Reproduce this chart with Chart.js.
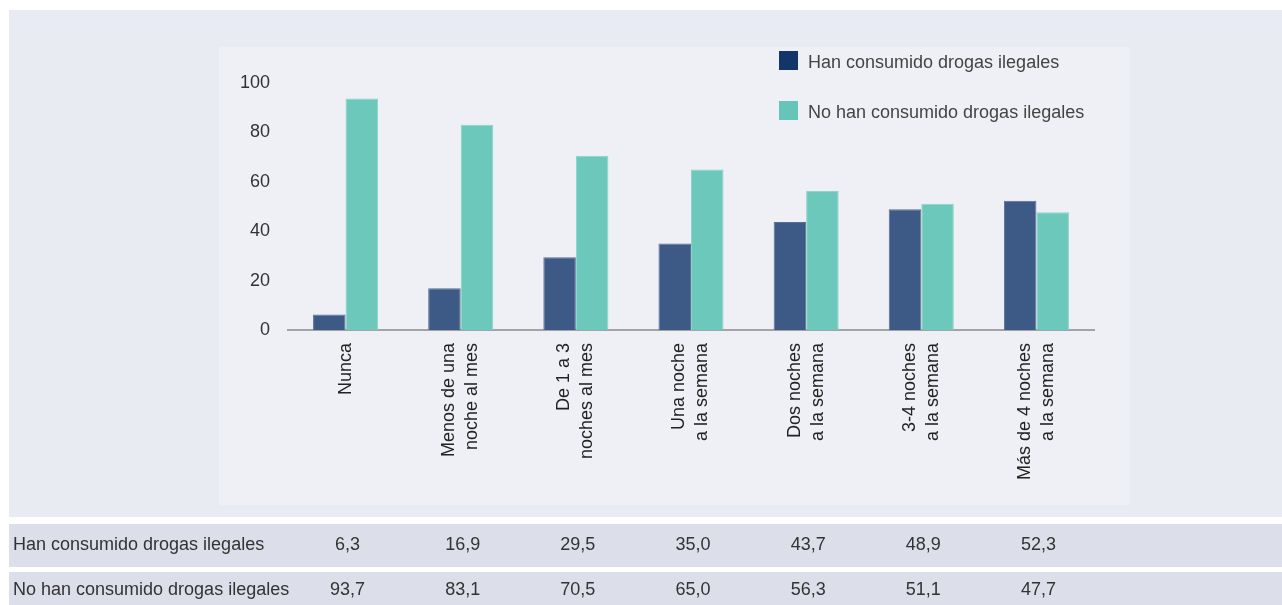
<!DOCTYPE html>
<html>
<head>
<meta charset="utf-8">
<script src="https://cdn.jsdelivr.net/npm/chart.js@4/dist/chart.umd.min.js"></script>
<style>
  html, body { margin: 0; padding: 0; background: #ffffff; }
  #wrap { width: 1282px; height: 605px; position: relative; }
  canvas { display: block; }
</style>
</head>
<body>
<div id="wrap"><canvas id="c" width="1282" height="605"></canvas></div>
<script>
// ---- data ----
const categories = [
  ["Nunca"],
  ["Menos de una", "noche al mes"],
  ["De 1 a 3", "noches al mes"],
  ["Una noche", "a la semana"],
  ["Dos noches", "a la semana"],
  ["3-4 noches", "a la semana"],
  ["Más de 4 noches", "a la semana"]
];
const seriesNames = ["Han consumido drogas ilegales", "No han consumido drogas ilegales"];
const hanConsumido = [6.3, 16.9, 29.5, 35.0, 43.7, 48.9, 52.3];
const noHanConsumido = [93.7, 83.1, 70.5, 65.0, 56.3, 51.1, 47.7];
const yTicks = [0, 20, 40, 60, 80, 100];

// ---- styles ----
const barColors = ["#3c5a85", "#6cc8ba"];
const barBorders = ["#5d6e96", "#8ad3c7"];
const legendColors = ["#13366a", "#66c5b8"];
const FONT = "'Liberation Sans', Arial, Helvetica, sans-serif";

function fmt(v) { return v.toFixed(1).replace('.', ','); }

const backgroundPlugin = {
  id: 'bg',
  beforeDraw(chart) {
    const ctx = chart.ctx;
    ctx.save();
    ctx.fillStyle = '#ffffff';
    ctx.fillRect(0, 0, 1282, 605);
    ctx.fillStyle = '#e9ebf3';
    ctx.fillRect(9, 10, 1273, 507);
    ctx.fillStyle = '#eef0f5';
    ctx.fillRect(219, 47, 911, 458);
    ctx.fillStyle = '#dcdee9';
    ctx.fillRect(9, 524, 1273, 43);
    ctx.fillRect(9, 572, 1273, 33);
    ctx.restore();
  }
};

const overlayPlugin = {
  id: 'overlay',
  afterDraw(chart) {
    const ctx = chart.ctx;
    const xs = chart.scales.x;
    ctx.save();
    // x category labels (rotated, centred on category)
    ctx.font = "18px " + FONT;
    ctx.fillStyle = '#222222';
    ctx.textAlign = 'right';
    ctx.textBaseline = 'middle';
    const lh = 23;
    categories.forEach((lines, i) => {
      const px = xs.getPixelForValue(i);
      const n = lines.length;
      lines.forEach((ln, j) => {
        const cx = px + (j - (n - 1) / 2) * lh;
        ctx.save();
        ctx.translate(cx, 343);
        ctx.rotate(-Math.PI / 2);
        ctx.fillText(ln, 0, 0);
        ctx.restore();
      });
    });

    // legend
    ctx.textAlign = 'left';
    ctx.fillStyle = '#444444';
    const ly = [51, 101];
    seriesNames.forEach((name, k) => {
      ctx.fillStyle = legendColors[k];
      ctx.fillRect(779, ly[k], 19, 19);
      ctx.fillStyle = '#444444';
      ctx.fillText(name, 808, ly[k] + 12);
    });

    // data table
    const rows = [hanConsumido, noHanConsumido];
    const rowY = [545, 590];
    ctx.fillStyle = '#333333';
    rows.forEach((vals, r) => {
      ctx.textAlign = 'left';
      ctx.fillText(seriesNames[r], 13, rowY[r]);
      ctx.textAlign = 'center';
      vals.forEach((v, i) => {
        ctx.fillText(fmt(v), xs.getPixelForValue(i) + 2, rowY[r]);
      });
    });
    ctx.restore();
  }
};

new Chart(document.getElementById('c'), {
  type: 'bar',
  data: {
    labels: categories,
    datasets: [
      { label: seriesNames[0], data: hanConsumido, backgroundColor: barColors[0], borderColor: barBorders[0], borderWidth: 1 },
      { label: seriesNames[1], data: noHanConsumido, backgroundColor: barColors[1], borderColor: barBorders[1], borderWidth: 1 }
    ]
  },
  options: {
    responsive: false,
    animation: false,
    devicePixelRatio: 1,
    layout: { padding: { left: 0, top: 83, right: 188, bottom: 0 } },
    datasets: { bar: { categoryPercentage: 0.565, barPercentage: 1.0 } },
    plugins: { legend: { display: false }, tooltip: { enabled: false }, title: { display: false } },
    scales: {
      x: {
        grid: { display: true, color: 'rgba(0,0,0,0)', drawOnChartArea: false, drawTicks: false },
        border: { display: true, color: '#a3a3a3', width: 2 },
        ticks: { display: false },
        afterFit(s) { s.height = 275; }
      },
      y: {
        min: 0, max: 100,
        afterBuildTicks(s) { s.ticks = yTicks.map(v => ({ value: v })); },
        grid: { display: false, drawTicks: false },
        border: { display: false },
        ticks: { padding: 18, color: '#333333', font: { size: 18, family: FONT } },
        afterFit(s) { s.width = 288; }
      }
    }
  },
  plugins: [backgroundPlugin, overlayPlugin]
});
</script>
</body>
</html>
